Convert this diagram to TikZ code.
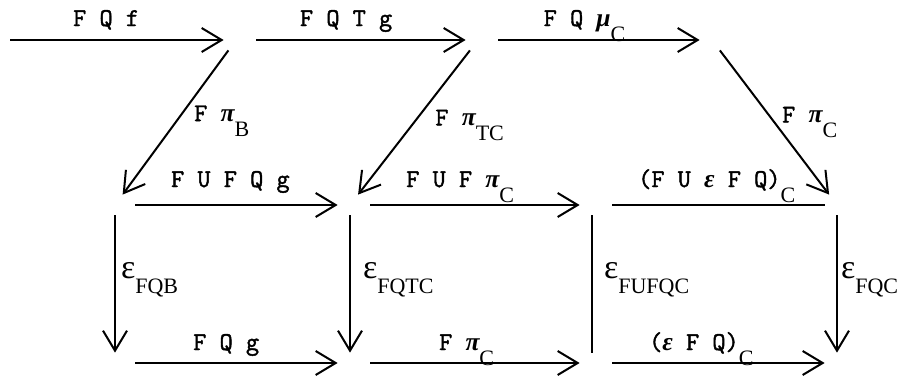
\documentclass[tikz,border=0pt]{standalone}
\usepackage{fontspec}
\setmainfont{Liberation Serif}
\setmonofont{Latin Modern Mono}[AutoFakeBold=1.6]
\usetikzlibrary{positioning, arrows.meta}

% lowered index, greek letters and the large epsilon of the vertical maps
\newcommand{\lowsub}[1]{\raisebox{-0.6em}{\rmfamily\mdseries\fontsize{11}{11}\selectfont #1}}
\newcommand{\gk}[1]{{\rmfamily\itshape #1}}
\newcommand{\bigeps}{{\rmfamily\mdseries\fontsize{17}{17}\selectfont ε}}

\begin{document}
\begin{tikzpicture}[
        x=0.5pt, y=-0.5pt,
        font=\ttfamily\bfseries\fontsize{12.8}{14}\selectfont,
        % vertices of the diagram (no objects printed)
        obj/.style={
            inner sep=0pt,
            minimum width=12pt,
            minimum height=10pt
        },
        % arrows
        arrow/.style={-{Straight Barb[length=10pt, width=12pt]}, line width=1pt},
        harrow/.style={arrow, shorten <=4pt},
        hline/.style={line width=1pt, shorten <=4pt},
        vline/.style={line width=1pt},
        % labels
        lab/.style={anchor=base, yshift=#1, inner sep=0pt},
        vlab/.style={inner sep=0pt}
    ]

    \useasboundingbox (0,0) rectangle (905,381);

    % -- Top row --
    \coordinate (s0) at (2,40);
    \node[obj] (t1) at (236,40) {};
    \node[obj] (t2) at (478,40) {};
    \node[obj] (t3) at (712,40) {};

    % -- Middle row --
    \node[obj] (m1) at (115,205) {};
    \node[obj] (m2) at (350,205) {};
    \node[obj] (m3) at (592,205) {};
    \node[obj] (m4) at (837,205) {};

    % -- Bottom row --
    \node[obj] (b1) at (115,363) {};
    \node[obj] (b2) at (350,363) {};
    \node[obj] (b3) at (592,363) {};
    \node[obj] (b4) at (837,363) {};

    % -- Horizontal maps --
    \draw[harrow] (s0) -- node[lab=7pt, pos=.47] {F Q f} (t1);
    \draw[harrow] (t1) -- node[lab=7pt, pos=.45] {F Q T g} (t2);
    \draw[harrow] (t2) -- node[lab=7pt, pos=.45] {F Q \gk{μ}\lowsub{C}} (t3);

    \draw[harrow] (m1) -- node[lab=9pt, pos=.49] {F U F Q g} (m2);
    \draw[harrow] (m2) -- node[lab=9pt, pos=.45] {F U F \gk{π}\lowsub{C}} (m3);
    \draw[hline] (m3) -- node[lab=9pt, pos=.51] {(F U \gk{ε} F Q)\lowsub{C}} (m4);

    \draw[harrow] (b1) -- node[lab=6.5pt, pos=.47] {F Q g} (b2);
    \draw[harrow] (b2) -- node[lab=6.5pt, pos=.48] {F \gk{π}\lowsub{C}} (b3);
    \draw[harrow] (b3) -- node[lab=6.5pt, pos=.44] {(\gk{ε} F Q)\lowsub{C}} (b4);

    % -- Diagonal maps --
    \draw[arrow] (t1) -- node[pos=.49, right=5pt] {F \gk{π}\lowsub{B}} (m1);
    \draw[arrow] (t2) -- node[pos=.52, right=8pt] {F \gk{π}\lowsub{TC}} (m2);
    \draw[arrow] (t3) -- node[pos=.5, right=0pt] {F \gk{π}\lowsub{C}} (m4);

    % -- Vertical maps --
    \draw[arrow] (m1) -- node[vlab, pos=.47, right=2.5pt] {\bigeps\lowsub{FQB}} (b1);
    \draw[arrow] (m2) -- node[vlab, pos=.47, right=6pt] {\bigeps\lowsub{FQTC}} (b2);
    \draw[vline] (m3) -- node[vlab, pos=.47, right=5.5pt] {\bigeps\lowsub{FUFQC}} (b3);
    \draw[arrow] (m4) -- node[vlab, pos=.47, right=1.5pt] {\bigeps\lowsub{FQC}} (b4);

\end{tikzpicture}
\end{document}
